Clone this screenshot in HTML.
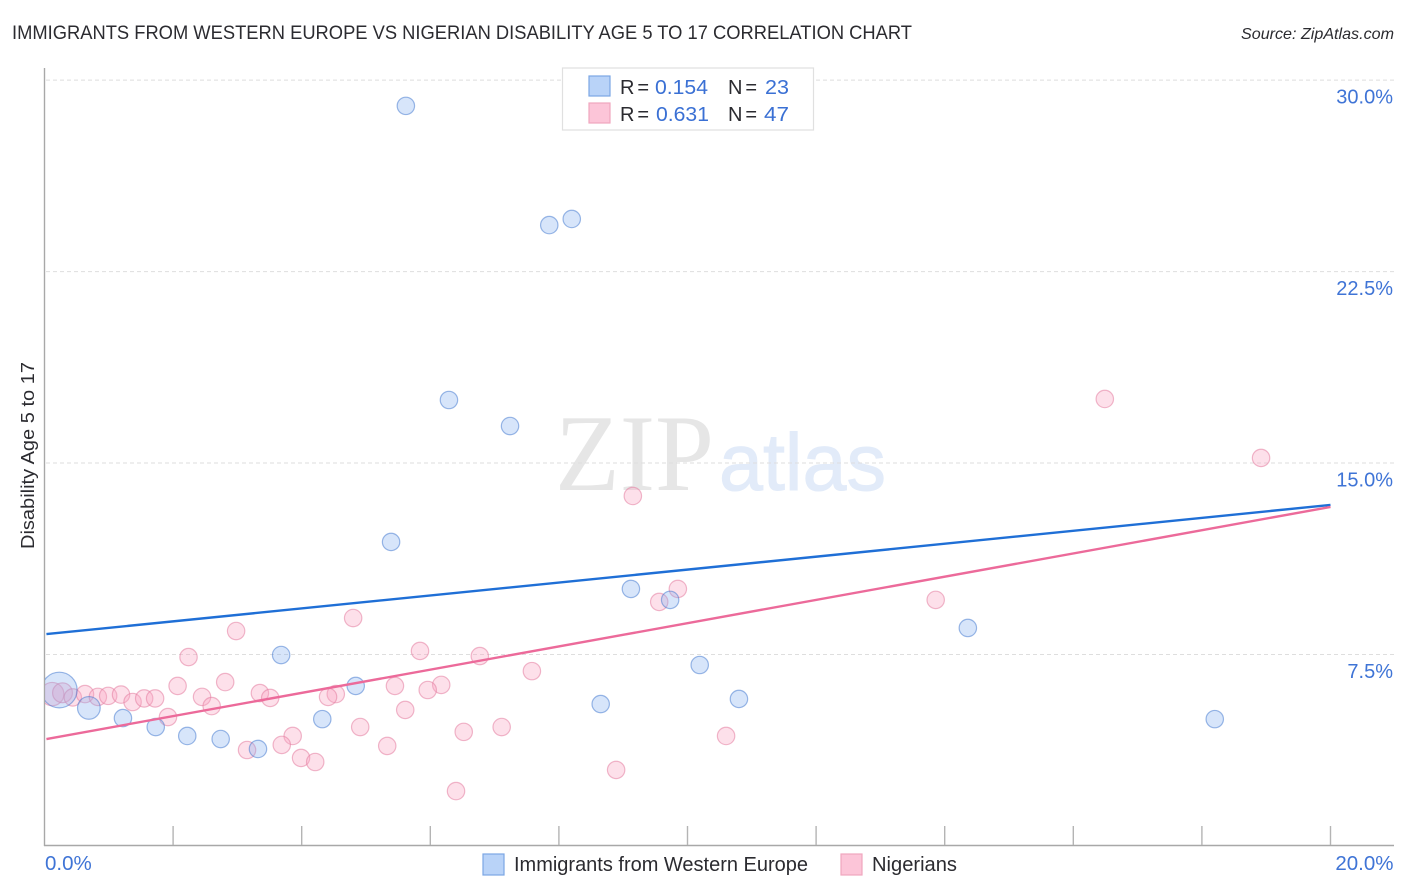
<!DOCTYPE html>
<html lang="en">
<head>
<meta charset="utf-8">
<title>Immigrants from Western Europe vs Nigerian Disability Age 5 to 17 Correlation Chart</title>
<style>
html,body{margin:0;padding:0;background:#fff;width:1406px;height:892px;overflow:hidden}
svg{display:block}
text{font-family:"Liberation Sans",sans-serif}
</style>
</head>
<body>
<svg id="chart" xmlns="http://www.w3.org/2000/svg" width="1406" height="892" viewBox="0 0 1406 892">
  <defs>
    <clipPath id="plot-clip"><rect x="45" y="60" width="1350" height="785"/></clipPath>
  </defs>
  <text x="12" y="39" font-size="19" fill="#2b2b30" textLength="900" lengthAdjust="spacingAndGlyphs">IMMIGRANTS FROM WESTERN EUROPE VS NIGERIAN DISABILITY AGE 5 TO 17 CORRELATION CHART</text>
  <text x="1241" y="39" font-size="16" font-style="italic" fill="#2b2b30" textLength="153" lengthAdjust="spacingAndGlyphs">Source: ZipAtlas.com</text>
  <g>
    <text x="555" y="490" style="font-family:'Liberation Serif',serif" font-size="109" fill="#e6e6e6" textLength="159" lengthAdjust="spacingAndGlyphs">ZIP</text>
    <text x="719" y="490" font-size="81" fill="#e2ebf9" stroke="#e2ebf9" stroke-width="1" textLength="167" lengthAdjust="spacingAndGlyphs">atlas</text>
  </g>
  <g id="grid"></g>
  <g id="axes"></g>
  <g id="points" clip-path="url(#plot-clip)"></g>
  <g id="trends"></g>
  <text transform="translate(34,455.5) rotate(-90)" font-size="18" fill="#2b2b30" text-anchor="middle" textLength="187" lengthAdjust="spacingAndGlyphs">Disability Age 5 to 17</text>
  <g>
    <rect x="562.5" y="68" width="251" height="62" fill="#fff" stroke="#e0e0e0" stroke-width="1.2"/>
    <rect x="589" y="76" width="21" height="20" fill="#b9d3f8" stroke="#7ba6e4" stroke-width="1.2"/>
    <rect x="589" y="103" width="21" height="20" fill="#fcc5d8" stroke="#f0a6bf" stroke-width="1.2"/>
    <text x="620" y="94" font-size="20" fill="#2b2b30" textLength="29" lengthAdjust="spacing">R =</text>
    <text x="655" y="94" font-size="20.5" fill="#3a70d4" textLength="53" lengthAdjust="spacingAndGlyphs">0.154</text>
    <text x="728" y="94" font-size="20" fill="#2b2b30" textLength="29" lengthAdjust="spacing">N =</text>
    <text x="765" y="94" font-size="20.5" fill="#3a70d4" textLength="24" lengthAdjust="spacingAndGlyphs">23</text>
    <text x="620" y="121" font-size="20" fill="#2b2b30" textLength="29" lengthAdjust="spacing">R =</text>
    <text x="656" y="121" font-size="20.5" fill="#3a70d4" textLength="53" lengthAdjust="spacingAndGlyphs">0.631</text>
    <text x="728" y="121" font-size="20" fill="#2b2b30" textLength="29" lengthAdjust="spacing">N =</text>
    <text x="764" y="121" font-size="20.5" fill="#3a70d4" textLength="25" lengthAdjust="spacingAndGlyphs">47</text>
  </g>
  <g>
    <rect x="483" y="854" width="21" height="21" fill="#b9d3f8" stroke="#7ba6e4" stroke-width="1.2"/>
    <text x="514" y="871" font-size="20" fill="#2b2b30" textLength="294" lengthAdjust="spacingAndGlyphs">Immigrants from Western Europe</text>
    <rect x="841" y="854" width="21" height="21" fill="#fcc5d8" stroke="#f0a6bf" stroke-width="1.2"/>
    <text x="872" y="871" font-size="20" fill="#2b2b30" textLength="85" lengthAdjust="spacingAndGlyphs">Nigerians</text>
  </g>
</svg>
<script>
var yTickValues = [7.5, 15, 22.5, 30];
var yTickLabels = ["7.5%", "15.0%", "22.5%", "30.0%"];
var xTickValues = [2, 4, 6, 8, 10, 12, 14, 16, 18, 20];
var xEndValues = [0, 20];
var xEndLabels = ["0.0%", "20.0%"];

var blueX = [5.62,7.85,8.20,6.29,7.24,5.39,9.12,9.73,14.36,3.68,10.19,4.84,10.80,8.65,4.32,1.22,18.20,1.73,2.22,2.74,3.32,0.69,0.23];
var blueY = [28.99,24.32,24.56,17.47,16.45,11.91,10.07,9.64,8.54,7.48,7.09,6.27,5.76,5.56,4.97,5.01,4.97,4.66,4.31,4.19,3.80,5.41,6.11];
var blueWeight = [1,1,1,1,1,1,1,1,1,1,1,1,1,1,1,1,1,1,1,1,1,1.7,4.2];

var pinkX = [16.49,18.92,9.15,9.85,9.56,13.86,4.80,2.98,2.24,5.84,6.77,7.58,2.81,2.07,5.45,6.17,5.96,4.53,4.41,3.35,3.51,2.45,2.60,5.61,1.92,4.91,7.11,6.52,10.60,3.86,3.69,3.15,5.33,3.99,4.21,8.89,6.40,0.12,0.28,0.44,0.63,0.83,0.99,1.19,1.37,1.55,1.72];
var pinkY = [17.51,15.20,13.71,10.07,9.56,9.64,8.93,8.42,7.40,7.64,7.44,6.85,6.42,6.27,6.27,6.31,6.11,5.95,5.84,5.99,5.80,5.84,5.48,5.33,5.05,4.66,4.66,4.47,4.31,4.31,3.96,3.76,3.92,3.45,3.29,2.98,2.15,5.95,6.00,5.82,5.95,5.84,5.88,5.93,5.64,5.78,5.78];
var pinkWeight = [1,1,1,1,1,1,1,1,1,1,1,1,1,1,1,1,1,1,1,1,1,1,1,1,1,1,1,1,1,1,1,1,1,1,1,1,1,1.8,1.3,1,1,1,1,1,1,1,1];

var trendX = [0.03, 20];
var blueTrendY = [8.30, 13.36];
var pinkTrendY = [4.19, 13.28];

var NS = "http://www.w3.org/2000/svg";
function xScale(v) { return 44.5 + v * 64.3; }
function yScale(v) { return 846 - v * 25.53; }
function make(tag, parent, attrs) {
  var el = document.createElementNS(NS, tag);
  for (var k in attrs) { el.setAttribute(k, attrs[k]); }
  parent.appendChild(el);
  return el;
}
var gridG = document.getElementById("grid");
var axesG = document.getElementById("axes");
var pointsG = document.getElementById("points");
var trendsG = document.getElementById("trends");

yTickValues.forEach(function (v, i) {
  var line = make("line", gridG, {x1: 46, x2: 1394, y1: yScale(v), y2: yScale(v), stroke: "#dedede", "stroke-width": 1, "stroke-dasharray": "4 3"});
  
  
  var label = make("text", axesG, {x: 1393, y: yScale(v) + 23.5, "font-size": 20, fill: "#3f74d6", "text-anchor": "end"});
  label.textContent = yTickLabels[i];
  
  
});

var yAxis = make("line", axesG, {x1: 44.5, x2: 44.5, y1: 68, y2: 846, stroke: "#a8a8a8", "stroke-width": 1.4});


var xAxis = make("line", axesG, {x1: 44, x2: 1394, y1: 845.5, y2: 845.5, stroke: "#a8a8a8", "stroke-width": 1.4});



xTickValues.forEach(function (v) {
  var tick = make("line", axesG, {x1: xScale(v), x2: xScale(v), y1: 826, y2: 845, stroke: "#b4b4b4", "stroke-width": 1.4});
  
  
});

xEndValues.forEach(function (v, i) {
  var atEnd = i === xEndValues.length - 1;
  var label = make("text", axesG, {x: atEnd ? xScale(v) + 63 : xScale(v) + 0.5, y: 870, "font-size": 20.5, fill: "#3f74d6", "text-anchor": atEnd ? "end" : "start"});
  label.textContent = xEndLabels[i];
  
  
});

function radius(w) { return 8.7 * Math.sqrt(w); }

pinkX.forEach(function (v, i) {
  var c = make("circle", pointsG, {cx: xScale(v), cy: yScale(pinkY[i]), r: radius(pinkWeight[i]), fill: "rgba(248,165,192,0.34)", stroke: "rgba(228,125,160,0.55)", "stroke-width": 1.2});
  
  
});
blueX.forEach(function (v, i) {
  var c = make("circle", pointsG, {cx: xScale(v), cy: yScale(blueY[i]), r: radius(blueWeight[i]), fill: "rgba(130,175,240,0.32)", stroke: "rgba(60,115,205,0.5)", "stroke-width": 1.2});
  
  
});

var blueTrend = make("line", trendsG, {x1: xScale(trendX[0]), x2: xScale(trendX[1]), y1: yScale(blueTrendY[0]), y2: yScale(blueTrendY[1]), stroke: "#1f6fd6", "stroke-width": 2.4});


var pinkTrend = make("line", trendsG, {x1: xScale(trendX[0]), x2: xScale(trendX[1]), y1: yScale(pinkTrendY[0]), y2: yScale(pinkTrendY[1]), stroke: "#ec6a9a", "stroke-width": 2.4});


</script>
</body>
</html>
